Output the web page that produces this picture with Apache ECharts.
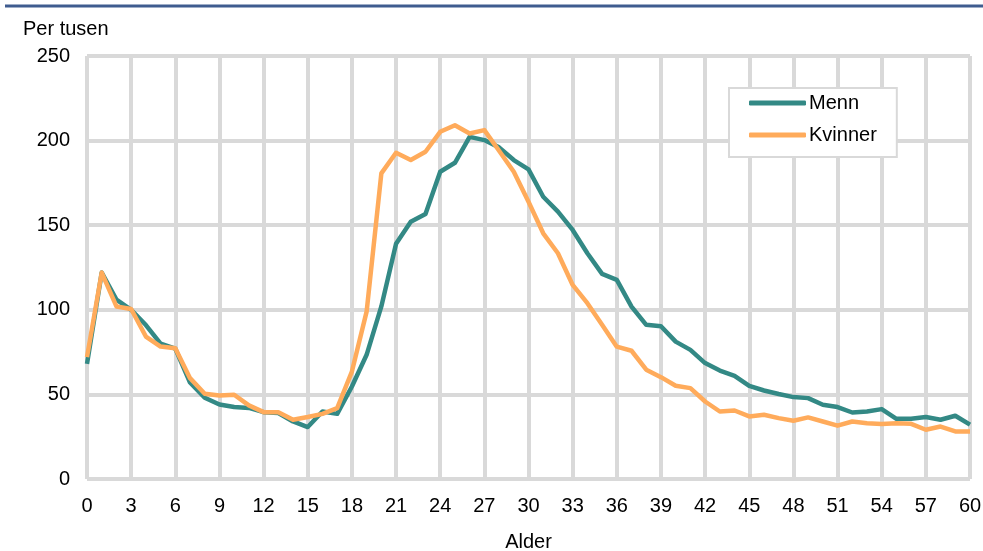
<!DOCTYPE html>
<html>
<head>
<meta charset="utf-8">
<script src="https://cdn.jsdelivr.net/npm/echarts@6/dist/echarts.min.js"></script>
<style>
  html, body { margin: 0; padding: 0; background: #fff; }
  #chart { width: 983px; height: 551px; }
</style>
</head>
<body>
<div id="chart"></div>
<script>
// Ages 0–60 (one point per year of age)
const ages = Array.from({ length: 61 }, (_, i) => i);

// Per thousand, men
const menn = [
  68, 122, 106, 100, 91, 80, 77, 57, 48, 44,
  42.5, 42, 39.5, 39, 34, 30.7, 39.9, 38.5, 54.7, 73.4,
  102, 139, 152, 156.6, 181.6, 186.9, 202.2, 200.3, 196, 188.5,
  183, 166.8, 158, 147.2, 133.4, 121.2, 117.7, 101.9, 91.1, 90.3,
  81.2, 76.3, 68.5, 64.1, 61, 55.1, 52.3, 50.2, 48.4, 47.8,
  43.9, 42.5, 39.3, 39.9, 41.3, 35.6, 35.6, 36.6, 35, 37.4,
  32.1
];

// Per thousand, women
const kvinner = [
  72, 122, 102, 100.5, 84.2, 78.3, 77.3, 59.6, 50.4, 49.4,
  49.8, 43.5, 39.5, 39.5, 35, 36.6, 38.5, 41.9, 63.5, 98.9,
  180.6, 192.8, 188.5, 193.4, 205.2, 209.1, 204.2, 206.2, 194, 181.6,
  163.9, 145.2, 133.4, 114.7, 103.9, 91.1, 78.2, 75.8, 64.6, 60.2,
  55.1, 53.7, 45.8, 39.9, 40.5, 37, 38, 36, 34.4, 36.4,
  34, 31.5, 34, 33, 32.5, 33, 32.6, 29.1, 31, 28.1,
  28.1
];

const seriesNames = ['Menn', 'Kvinner'];
const seriesColors = ['#338985', '#ffab5b'];
const yTicks = { min: 0, max: 250, interval: 50 };
const xTicks = { min: 0, max: 60, interval: 3 };

const FONT = "'Liberation Sans', Arial, Helvetica, sans-serif";
const FONT_SIZE = 20;
const GRID_COLOR = '#d9d9d9';

const chart = echarts.init(document.getElementById('chart'), null, { renderer: 'canvas' });

const toPairs = (vals) => ages.map((a, i) => [a, vals[i]]);

chart.setOption({
  animation: false,
  backgroundColor: '#ffffff',
  textStyle: { fontFamily: FONT, color: '#000' },
  grid: { left: 87, right: 13, top: 56, bottom: 72, containLabel: false, outerBoundsMode: 'none' },
  graphic: [
    {
      type: 'line',
      shape: { x1: 5, y1: 6, x2: 983, y2: 6 },
      style: { stroke: '#3f5c8f', lineWidth: 3 }
    },
    {
      type: 'text',
      left: 23,
      top: 19,
      style: { text: 'Per tusen', fontSize: FONT_SIZE, fontFamily: FONT, fill: '#000' }
    }
  ],
  legend: {
    data: seriesNames,
    orient: 'vertical',
    left: 729,
    top: 88,
    backgroundColor: '#ffffff',
    borderColor: GRID_COLOR,
    borderWidth: 2,
    padding: [5, 20, 12, 20],
    itemGap: 12,
    itemWidth: 57,
    itemHeight: 5,
    icon: 'roundRect',
    textStyle: { fontSize: FONT_SIZE, fontFamily: FONT, color: '#000', lineHeight: 20, padding: [0, 0, 0, -2] }
  },
  xAxis: {
    type: 'value',
    min: xTicks.min,
    max: xTicks.max,
    interval: xTicks.interval,
    name: 'Alder',
    nameLocation: 'middle',
    nameGap: 53,
    nameTextStyle: { fontSize: FONT_SIZE, fontFamily: FONT, color: '#000' },
    axisLine: { show: false },
    axisTick: { show: false },
    axisLabel: { fontSize: FONT_SIZE, fontFamily: FONT, color: '#000', margin: 17 },
    splitLine: { show: true, lineStyle: { color: GRID_COLOR, width: 4 } }
  },
  yAxis: {
    type: 'value',
    min: yTicks.min,
    max: yTicks.max,
    interval: yTicks.interval,
    axisLine: { show: false },
    axisTick: { show: false },
    axisLabel: { fontSize: FONT_SIZE, fontFamily: FONT, color: '#000', margin: 17 },
    splitLine: { show: true, lineStyle: { color: GRID_COLOR, width: 4 } }
  },
  series: [
    {
      name: seriesNames[0],
      type: 'line',
      data: toPairs(menn),
      symbol: 'none',
      color: seriesColors[0],
      lineStyle: { width: 4.5, color: seriesColors[0], join: 'round' }
    },
    {
      name: seriesNames[1],
      type: 'line',
      data: toPairs(kvinner),
      symbol: 'none',
      color: seriesColors[1],
      lineStyle: { width: 4.5, color: seriesColors[1], join: 'round' }
    }
  ]
});
</script>
</body>
</html>
